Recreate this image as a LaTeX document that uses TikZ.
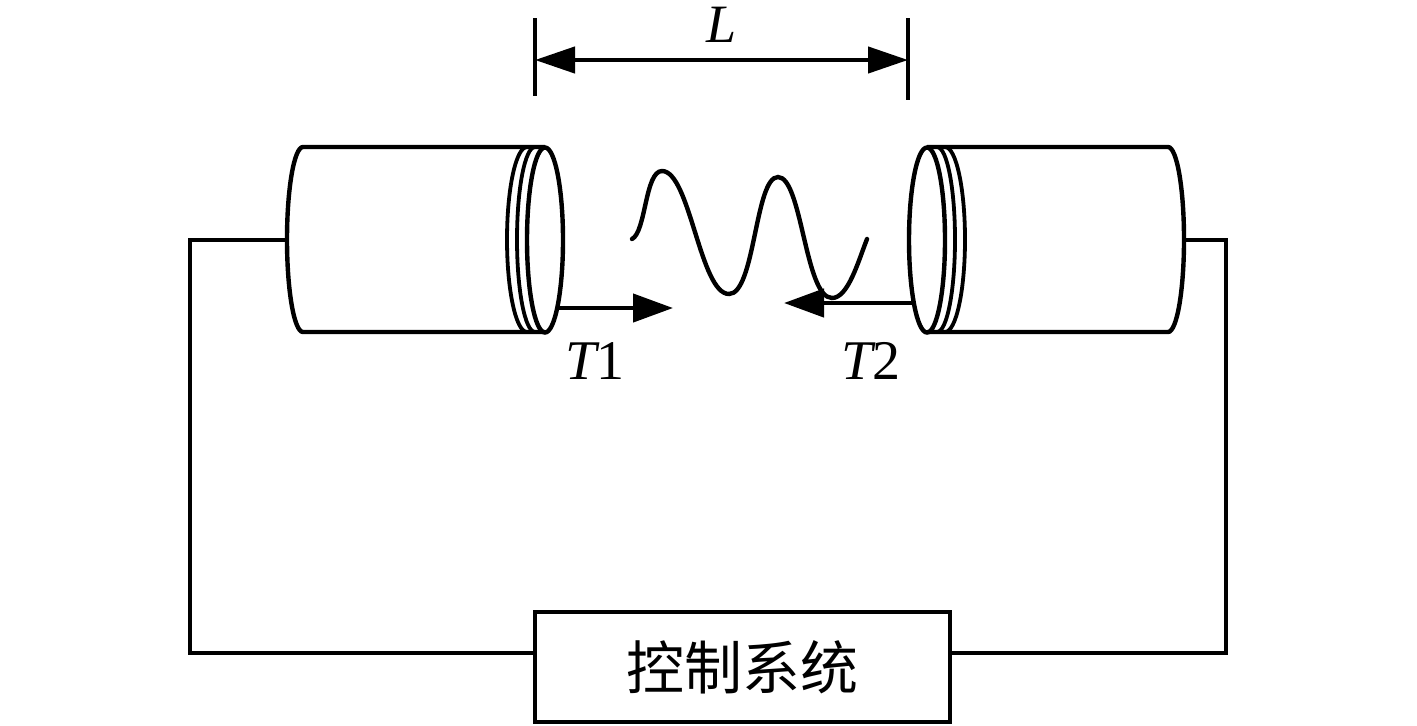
\documentclass[tikz,border=0pt]{standalone}
\usepackage{fontspec}
\setmainfont{Liberation Serif}
\newfontfamily\cjk{Noto Sans CJK SC}
\usetikzlibrary{arrows.meta,positioning}

\begin{document}
\begin{tikzpicture}[
    x=0.5pt, y=-0.5pt,
    line/.style={line width=2.2pt},
    thin line/.style={line width=1.9pt},
    wire/.style={line width=2.2pt},
    arrow/.style={line width=2.2pt, -{Triangle[length=20pt, width=14pt]}},
    dimarrow/.style={line width=2.2pt, {Triangle[length=20pt, width=13pt]}-{Triangle[length=20pt, width=13pt]}},
    control/.style={rectangle, draw, line width=2.2pt, minimum width=207.5pt, minimum height=55pt, font=\cjk\fontsize{29pt}{31pt}\selectfont},
    label/.style={font=\fontsize{28pt}{30pt}\selectfont, inner sep=0pt}
]
    \useasboundingbox (0,0) rectangle (1417,725);

    % left cylinder
    \draw[line] (545,147) -- (303,147) arc[start angle=270, end angle=90, x radius=16, y radius=92.5] -- (545,332);
    \draw[line] (545,240) ellipse[x radius=18, y radius=92.5];
    \draw[thin line] (535,147) arc[start angle=270, end angle=90, x radius=18, y radius=92.5];
    \draw[thin line] (527,147) arc[start angle=270, end angle=90, x radius=20, y radius=92.5];

    % right cylinder
    \draw[line] (927,147) -- (1168,147) arc[start angle=270, end angle=450, x radius=16, y radius=92.5] -- (927,332);
    \draw[line] (927,240) ellipse[x radius=18, y radius=92.5];
    \draw[thin line] (937,147) arc[start angle=270, end angle=450, x radius=18, y radius=92.5];
    \draw[thin line] (945,147) arc[start angle=270, end angle=450, x radius=20, y radius=92.5];

    \coordinate (left end) at (287,240);
    \coordinate (right end) at (1184,240);
    \coordinate (left face) at (558,308);
    \coordinate (right face) at (912,303);
    \coordinate (T1 tip) at (673,308);
    \coordinate (T2 tip) at (784,303);

    % distance L
    \coordinate (tick a top) at (535,18);
    \coordinate (tick a bot) at (535,96);
    \coordinate (tick b top) at (908,18);
    \coordinate (tick b bot) at (908,100);
    \coordinate (dim a) at (535,60);
    \coordinate (dim b) at (908,60);
    \draw[line] (tick a top) -- (tick a bot);
    \draw[line] (tick b top) -- (tick b bot);
    \draw[dimarrow] (dim a) -- (dim b);
    \node[label, font=\itshape\fontsize{27pt}{30pt}\selectfont] (length) at (722,25) {L};

    % wave
    \draw[line, line cap=round] (632,239) .. controls (646,232) and (645,171) .. (662,171)
        .. controls (690,171) and (700,294) .. (729,294)
        .. controls (755,294) and (755,177) .. (778,177)
        .. controls (802,177) and (805,298) .. (832,298)
        .. controls (848,298) and (858,262) .. (867,239);

    \draw[arrow] (left face) -- (T1 tip);
    \draw[arrow] (right face) -- (T2 tip);
    \node[label] (T1) at (595,361) {\textit{T}\kern-2pt 1};
    \node[label] (T2) at (871,361) {\textit{T}\kern-2pt 2};

    % control system
    \node[control] (system) at (742.5,667) {控制系统};
    \draw[wire] (left end) -- (190,240) -- (190,653) -- (system.west |- 190,653);
    \draw[wire] (right end) -- (1226,240) -- (1226,653) -- (system.east |- 1226,653);
\end{tikzpicture}
\end{document}
